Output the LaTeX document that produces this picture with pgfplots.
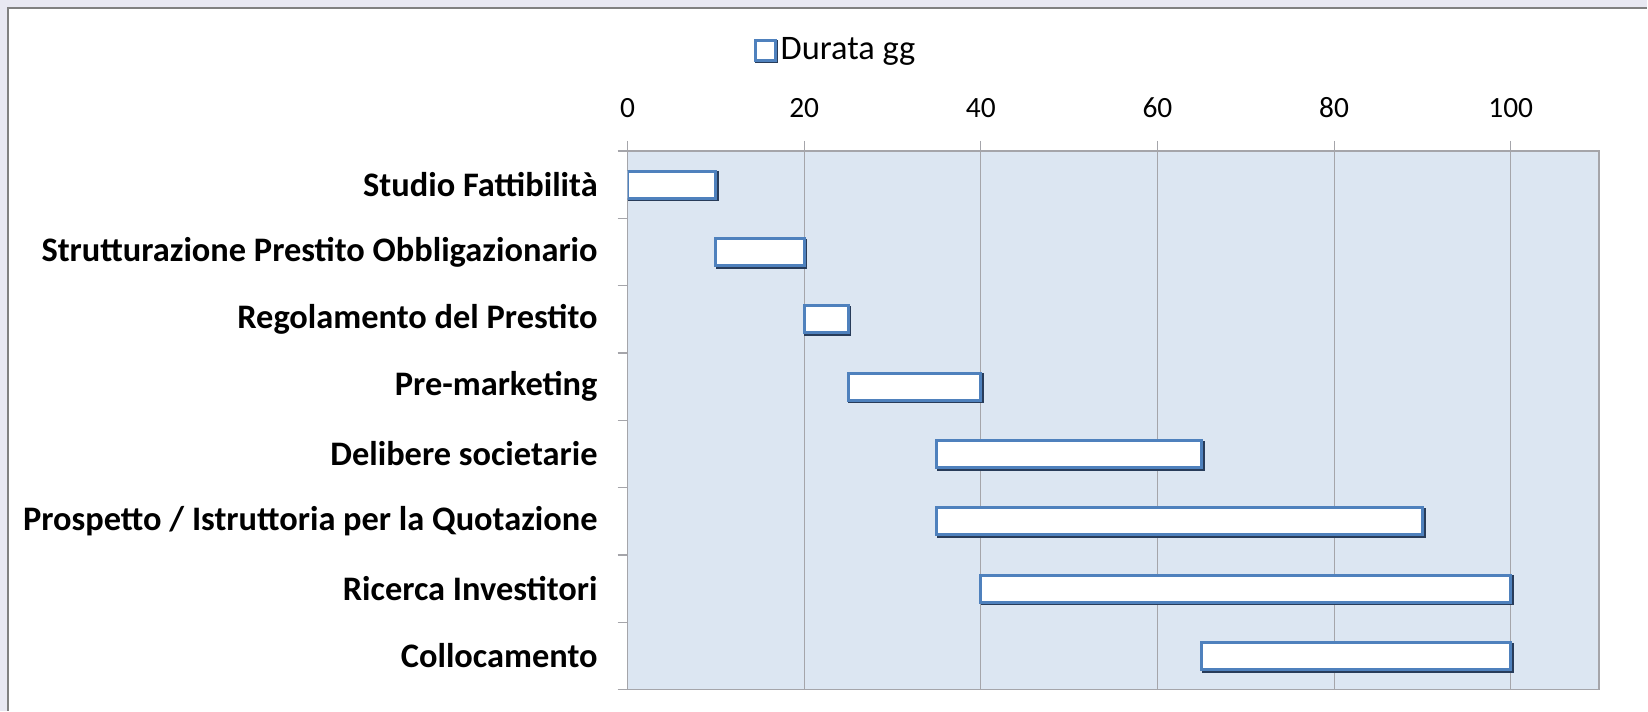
\documentclass[border=0pt]{standalone}
\usepackage{pgfplots}
\usepackage{pgfplotstable}
\pgfplotsset{compat=1.18}
\usepackage{fontspec}
\setmainfont{Carlito}
\definecolor{outerbg}{RGB}{232,232,242}
\definecolor{frame}{RGB}{128,128,128}
\definecolor{plotbg}{RGB}{220,230,242}
\definecolor{barblue}{RGB}{79,129,189}
\definecolor{bardark}{RGB}{40,60,90}
\definecolor{gridgray}{RGB}{165,165,170}
\pgfplotstableread{
row start dur
0 0 10
1 10 10
2 20 5
3 25 15
4 35 30
5 35 55
6 40 60
7 65 35
}\gantt
\begin{document}
\begin{tikzpicture}[x=1pt,y=1pt]
\fill[outerbg] (-314,-10.5) rectangle (510,345);
\fill[white] (-310,-10.5) rectangle (510,341);
\draw[frame, line width=1pt] (-310,-10.5) -- (-310,341) -- (510,341);
\begin{axis}[
  at={(0,0)}, anchor=south west,
  scale only axis, width=486pt, height=269.5pt,
  xbar stacked, bar width=13.5pt,
  xmin=0, xmax=110, ymin=-0.5, ymax=7.5, y dir=reverse,
  axis background/.style={fill=plotbg},
  axis line style={gridgray, line width=0.8pt},
  xtick={0,20,...,100},
  xtick pos=upper, xticklabel pos=upper,
  ytick pos=left,
  tick align=outside,
  xmajorgrids, grid style={gridgray, line width=0.6pt},
  major tick style={gridgray, line width=0.6pt},
  major tick length=5pt,
  ytick={0,...,7},
  yticklabels={Studio Fattibilità,Strutturazione Prestito Obbligazionario,Regolamento del Prestito,Pre-marketing,Delibere societarie,Prospetto / Istruttoria per la Quotazione,Ricerca Investitori,Collocamento},
  major y tick style={draw=none},
  minor ytick={-0.5,0.5,...,7.5},
  minor y tick style={gridgray, line width=0.6pt},
  minor tick length=5pt,
  yticklabel style={font=\fontsize{17.2}{19}\selectfont\bfseries, xshift=-6.5pt},
  xticklabel style={font=\fontsize{14.7}{17}\selectfont, yshift=8pt},
  /pgf/number format/assume math mode=true,
  legend style={at={(0.215,1.187)}, anchor=center, draw=none, fill=none, font=\fontsize{17.2}{19}\selectfont},
  legend image code/.code={\draw[barblue, line width=1.5pt, fill=white, preaction={draw=bardark, line width=1.5pt, transform canvas={xshift=0.7pt,yshift=-0.7pt}}] (0pt,-5pt) rectangle (10pt,5pt);},
]
\addplot[draw=none, fill=none, forget plot] table[x=start, y=row] {\gantt};
\addplot[draw=barblue, line width=1.5pt, fill=white, preaction={draw=bardark, line width=1.5pt, transform canvas={xshift=0.8pt,yshift=-0.8pt}}] table[x=dur, y=row] {\gantt};
\addlegendentry{Durata gg}
\end{axis}
\end{tikzpicture}
\end{document}
